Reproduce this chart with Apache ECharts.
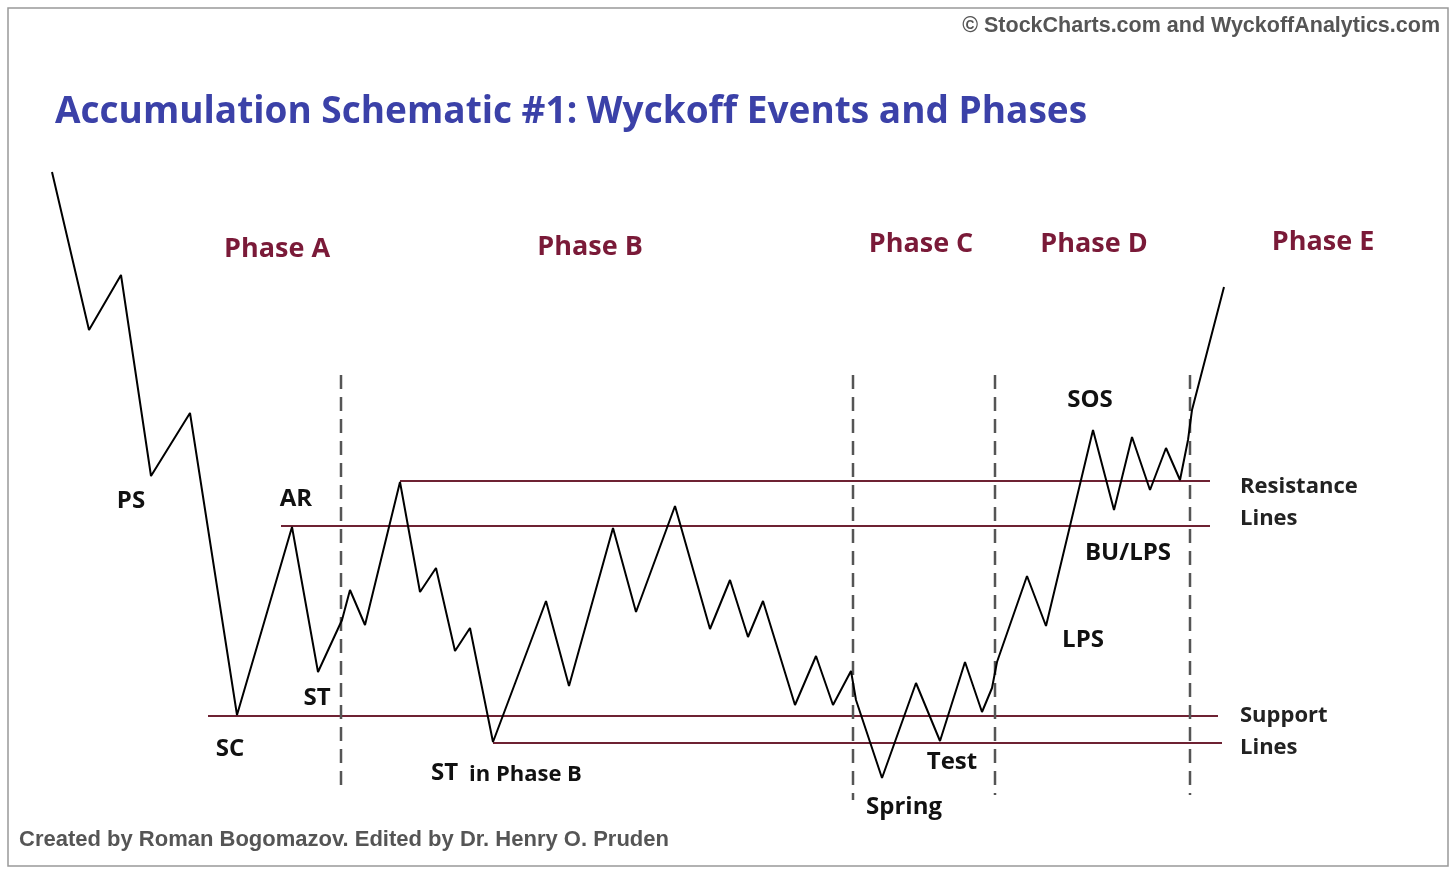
<!DOCTYPE html>
<html><head><meta charset="utf-8">
<script src="https://cdn.jsdelivr.net/npm/echarts@6/dist/echarts.min.js"></script>
<style>html,body{margin:0;padding:0;background:#fff}#c{width:1456px;height:874px}</style>
</head><body><div id="c"></div>
<script>
// Price path (x, y in schematic units; y grows downward)
const pricePath = [[52,172],[89,330],[121,275],[151,476],[190,413],[237,715],[292,527],[318,672],[342,620],[350,590],[365,625],[400,482],[420,592],[436,568],[455,651],[470,628],[493,742],[546,601],[569,686],[613,528],[636,612],[675,506],[710,629],[730,580],[748,637],[763,601],[795,705],[816,656],[833,705],[851,671],[856,700],[882,778],[916,683],[940,741],[965,662],[982,712],[992,688],[997,662],[1027,576],[1046,626],[1093,430],[1114,510],[1132,437],[1150,490],[1166,448],[1180,480],[1188,440],[1192,410],[1224,287]];
const resistanceLines = [{y:481,x1:400,x2:1210},{y:526,x1:281,x2:1210}];
const supportLines = [{y:716,x1:208,x2:1218},{y:743,x1:493,x2:1222}];
const phaseDividers = [{x:341,y1:375,y2:790},{x:853,y1:375,y2:800},{x:995,y1:375,y2:795},{x:1190,y1:375,y2:795}];
const phaseLabels = [["Phase A",277,249],["Phase B",590,247],["Phase C",921,244],["Phase D",1094,244],["Phase E",1323,242]];
const eventLabels = [["PS",131,501],["AR",296,499],["ST",317,698],["SC",230,749],["SOS",1090,400],["BU/LPS",1128,553],["LPS",1083,640],["Test",952,762],["Spring",904,807]];
const sideLabels = [["Resistance",1240,487],["Lines",1240,519],["Support",1240,716],["Lines",1240,748]];

const lineColor = '#6e2233';
const series = [];
[...resistanceLines, ...supportLines].forEach(l => series.push({type:'line',data:[[l.x1,l.y],[l.x2,l.y]],symbol:'none',silent:true,lineStyle:{color:lineColor,width:2}}));
phaseDividers.forEach(d => series.push({type:'line',data:[[d.x,d.y1],[d.x,d.y2]],symbol:'none',silent:true,lineStyle:{color:'#555',width:2.5,type:[14,8]}}));
series.push({type:'line',data:pricePath,symbol:'none',silent:true,lineStyle:{color:'#000',width:2}});

const txt = (t,x,y,size,color,align,font,weight) => ({type:'text',x:x,y:y,style:{text:t,fill:color,font:(weight||'bold')+' '+size+'px '+(font||'"Open Sans"'),textAlign:align||'center',textVerticalAlign:'middle'}});
const graphics = [
  {type:'rect',shape:{x:8,y:8,width:1440,height:858},style:{fill:'none',stroke:'#999',lineWidth:1.5}},
  txt('Accumulation Schematic #1: Wyckoff Events and Phases',55,112,37,'#3b41a8','left'),
  txt('© StockCharts.com and WyckoffAnalytics.com',1440,26,21.5,'#555','right','"Liberation Sans"'),
  txt('Created by Roman Bogomazov. Edited by Dr. Henry O. Pruden',19,840,22,'#555','left','"Liberation Sans"'),
  ...phaseLabels.map(p=>txt(p[0],p[1],p[2],27,'#7a1a38','center')),
  ...eventLabels.map(p=>txt(p[0],p[1],p[2],24,'#111','center')),
  txt('ST',431,773,24,'#111','left'),
  txt('in Phase B',469,775,22,'#111','left'),
  ...sideLabels.map(p=>txt(p[0],p[1],p[2],22,'#222','left'))
];
const chart = echarts.init(document.getElementById('c'));
chart.setOption({
  animation:false,
  grid:{left:0,right:0,top:0,bottom:0},
  xAxis:{type:'value',min:0,max:1456,show:false},
  yAxis:{type:'value',min:0,max:874,inverse:true,show:false},
  series:series,
  graphic:graphics
});
</script></body></html>
